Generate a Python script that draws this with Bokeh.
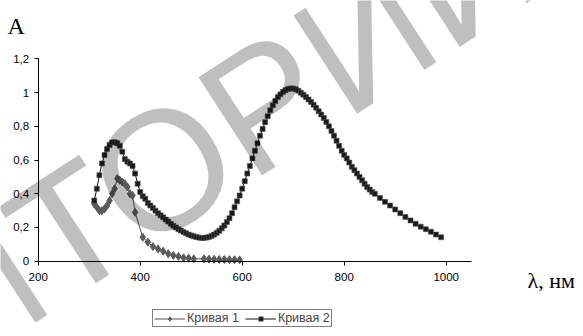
from bokeh.plotting import figure
from bokeh.models import Range1d, FixedTicker, CustomJSTickFormatter, Label, Legend, LegendItem
from bokeh.embed import file_html
from bokeh.resources import INLINE

# ---- data ----
wl1 = [310, 315, 320, 325, 330, 335, 340, 345, 350, 355, 360, 365, 370, 375, 380, 385, 390,
       405, 415, 425, 435, 445, 455, 465, 475, 485, 495, 505, 525, 535, 545, 555, 565, 575,
       585, 595]
a1 = [0.34, 0.32, 0.30, 0.30, 0.31, 0.33, 0.36, 0.40, 0.43, 0.49, 0.48, 0.47, 0.46, 0.44, 0.40,
      0.39, 0.29, 0.142, 0.113, 0.087, 0.073, 0.059, 0.044, 0.034, 0.028, 0.020, 0.018, 0.014,
      0.014, 0.012, 0.011, 0.010, 0.010, 0.009, 0.009, 0.008]

wl2 = [310, 315, 320, 325, 330, 335, 340, 345, 350, 355, 360, 365, 370, 375, 380, 385, 390,
       395, 400, 405, 410, 415, 420, 425, 430, 435, 440, 445, 450, 455, 460, 465, 470, 475,
       480, 485, 490, 495, 500, 505, 510, 515, 520, 525, 530, 535, 540, 545, 550, 555, 560,
       565, 570, 575, 580, 585, 590, 595, 600, 605, 610, 615, 620, 625, 630, 635, 640, 645,
       650, 655, 660, 665, 670, 675, 680, 685, 690, 695, 700, 705, 710, 715, 720, 725, 730,
       735, 740, 745, 750, 755, 760, 765, 770, 775, 780, 785, 790, 795, 800, 805, 810, 815,
       820, 825, 830, 835, 840, 845, 850, 855, 860, 870, 880, 890, 900, 910, 920, 930, 940,
       950, 960, 970, 980, 990]
a2 = [0.36, 0.43, 0.51, 0.58, 0.63, 0.665, 0.69, 0.705, 0.706, 0.70, 0.685, 0.65, 0.605, 0.59,
      0.58, 0.565, 0.52, 0.46, 0.41, 0.385, 0.37, 0.345, 0.33, 0.315, 0.30, 0.285, 0.272, 0.26,
      0.247, 0.235, 0.222, 0.21, 0.20, 0.19, 0.182, 0.173, 0.165, 0.158, 0.153, 0.148, 0.143,
      0.14, 0.138, 0.138, 0.14, 0.144, 0.15, 0.158, 0.168, 0.18, 0.195, 0.212, 0.232, 0.255,
      0.285, 0.32, 0.355, 0.39, 0.43, 0.475, 0.52, 0.565, 0.61, 0.655, 0.70, 0.745, 0.785,
      0.825, 0.86, 0.895, 0.925, 0.95, 0.975, 0.99, 1.005, 1.015, 1.022, 1.025, 1.025, 1.02,
      1.012, 1.0, 0.988, 0.975, 0.96, 0.945, 0.928, 0.91, 0.89, 0.87, 0.85, 0.826, 0.80,
      0.772, 0.745, 0.715, 0.685, 0.655, 0.63, 0.61, 0.585, 0.56, 0.54, 0.52, 0.50, 0.48,
      0.46, 0.44, 0.425, 0.41, 0.40, 0.375, 0.352, 0.33, 0.307, 0.285, 0.262, 0.242, 0.222,
      0.205, 0.19, 0.175, 0.158, 0.142]

x_ticks = [200, 400, 600, 800, 1000]
y_ticks = [0, 0.2, 0.4, 0.6, 0.8, 1.0, 1.2]
x_axis_bounds = (200, 1049)
y_axis_bounds = (0, 1.2)
series_names = ["Кривая 1", "Кривая 2"]
x_label = "λ, нм"
y_label = "A"
watermark = "РЕПОЗИТОРИЙ"

FONT = "Liberation Sans"
SERIF = "Liberation Serif"

# the frame fills the whole canvas; axes sit at fixed data positions inside it
p = figure(width=583, height=336, output_backend="svg", toolbar_location=None,
           x_range=Range1d(126.1, 1269.2), y_range=Range1d(-0.447, 1.547),
           min_border=0)
p.outline_line_color = None
p.xgrid.visible = False
p.ygrid.visible = False
p.background_fill_color = "white"
p.border_fill_color = "white"

for ax in (p.xaxis[0], p.yaxis[0]):
    ax.axis_line_color = "black"
    ax.major_tick_line_color = "black"
    ax.major_tick_out = 4
    ax.major_tick_in = 0
    ax.minor_tick_line_color = None
    ax.major_label_text_font = FONT
    ax.major_label_text_font_size = "11.5px"
    ax.major_label_text_color = "black"

p.xaxis[0].fixed_location = 0
p.yaxis[0].fixed_location = 200
p.xaxis[0].bounds = x_axis_bounds
p.yaxis[0].bounds = y_axis_bounds
p.xaxis[0].ticker = FixedTicker(ticks=x_ticks)
p.yaxis[0].ticker = FixedTicker(ticks=y_ticks)
p.yaxis[0].formatter = CustomJSTickFormatter(
    code="return tick.toFixed(1).replace('.', ',').replace(/,0$/, '');")
p.xaxis[0].major_label_standoff = 8
p.yaxis[0].major_label_standoff = 5

l1 = p.line(wl1, a1, line_color="#555555", line_width=1)
s1 = p.scatter(wl1, a1, marker="diamond", size=8, fill_color="#5a5a5a", line_color="#5a5a5a")
l2 = p.line(wl2, a2, line_color="#111111", line_width=1)
s2 = p.scatter(wl2, a2, marker="square", size=5, fill_color="#1a1a1a", line_color="#555555",
               line_width=0.6)

legend = Legend(items=[LegendItem(label=series_names[0], renderers=[l1, s1]),
                       LegendItem(label=series_names[1], renderers=[l2, s2])],
                orientation="horizontal", location=(152, 9),
                glyph_width=31, glyph_height=11, label_standoff=2, spacing=6,
                padding=1, margin=0, label_text_font=FONT, label_text_font_size="12.5px",
                label_height=11, border_line_color="black", border_line_width=1,
                background_fill_color="white", background_fill_alpha=1)
p.add_layout(legend, "center")

p.add_layout(Label(x=7, y=311, x_units="screen", y_units="screen", text=y_label,
                   text_font=SERIF, text_font_size="24px", text_align="left",
                   text_baseline="alphabetic", text_color="black"))
p.add_layout(Label(x=527, y=56, x_units="screen", y_units="screen", text=x_label,
                   text_font=SERIF, text_font_size="22px", text_align="left",
                   text_baseline="alphabetic", text_color="black"))

p.add_layout(Label(x=-24, y=46, x_units="screen", y_units="screen", text=watermark,
                   angle=0.576, text_font=FONT, text_font_size="170px",
                   text_font_style="normal", text_align="center", text_baseline="middle",
                   text_color="black", text_alpha=0.25, level="overlay"))

open("out.html", "w").write(file_html(p, INLINE))
